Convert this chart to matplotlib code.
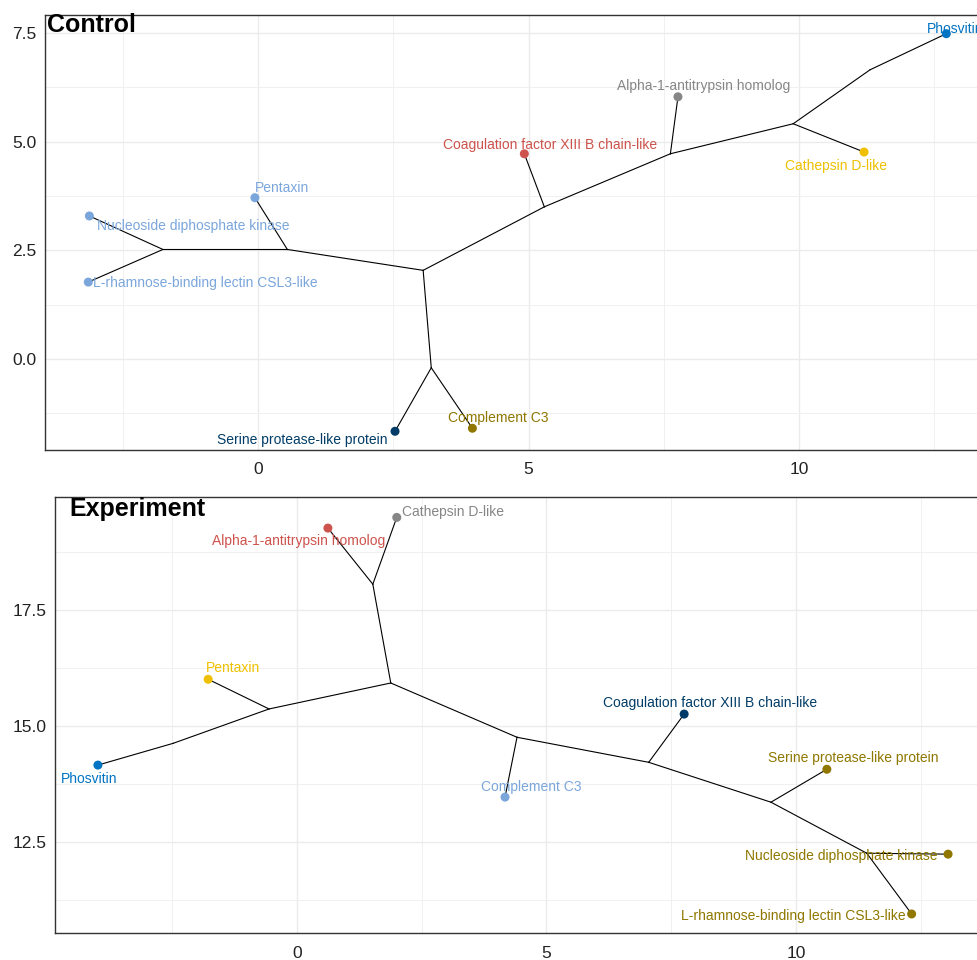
import matplotlib
matplotlib.use("Agg")
import matplotlib.pyplot as plt

plt.rcParams['font.family'] = ['Liberation Sans', 'DejaVu Sans']

# palette (ggsci jco)
BLUE = "#0073C2"
YELLOW = "#EFC000"
GRAY = "#868686"
RED = "#CD534C"
LIGHTBLUE = "#7AA6DC"
NAVY = "#003C67"
OLIVE = "#8F7700"

# ---- Control tree ----
ctrl_nodes = ["Phosvitin", "Alpha-1-antitrypsin homolog", "Coagulation factor XIII B chain-like",
              "Cathepsin D-like", "Pentaxin", "Nucleoside diphosphate kinase",
              "L-rhamnose-binding lectin CSL3-like", "Serine protease-like protein", "Complement C3",
              "n1", "n2", "n3", "n4", "n5", "n6", "n7", "n8"]
ctrl_x = [12.72, 7.76, 4.92, 11.20, -0.06, -3.12, -3.14, 2.53, 3.96,
          -1.76, 0.54, 3.05, 3.20, 5.29, 7.62, 9.89, 11.31]
ctrl_y = [7.48, 6.03, 4.72, 4.76, 3.71, 3.29, 1.77, -1.66, -1.59,
          2.52, 2.52, 2.04, -0.20, 3.50, 4.72, 5.41, 6.65]
ctrl_edges = [("n1", "Nucleoside diphosphate kinase"), ("n1", "L-rhamnose-binding lectin CSL3-like"),
              ("n1", "n2"), ("n2", "Pentaxin"), ("n2", "n3"), ("n3", "n4"),
              ("n4", "Serine protease-like protein"), ("n4", "Complement C3"), ("n3", "n5"),
              ("n5", "Coagulation factor XIII B chain-like"), ("n5", "n6"),
              ("n6", "Alpha-1-antitrypsin homolog"), ("n6", "n7"), ("n7", "Cathepsin D-like"),
              ("n7", "n8"), ("n8", "Phosvitin")]
ctrl_colors = [BLUE, GRAY, RED, YELLOW, LIGHTBLUE, LIGHTBLUE, LIGHTBLUE, NAVY, OLIVE]
ctrl_lab_x = [12.37, 8.23, 5.40, 10.68, 0.45, -1.20, -0.98, 0.81, 4.44]
ctrl_lab_y = [7.59, 6.28, 4.93, 4.44, 3.94, 3.06, 1.75, -1.86, -1.36]
ctrl_lab_ha = ["left", "center", "center", "center", "center", "center", "center", "center", "center"]

# ---- Experiment tree ----
exp_nodes = ["Cathepsin D-like", "Alpha-1-antitrypsin homolog", "Pentaxin", "Phosvitin",
             "Complement C3", "Coagulation factor XIII B chain-like", "Serine protease-like protein",
             "Nucleoside diphosphate kinase", "L-rhamnose-binding lectin CSL3-like",
             "m1", "m2", "m3", "m4", "m5", "m6", "m7", "m8"]
exp_x = [2.00, 0.62, -1.78, -3.99, 4.17, 7.76, 10.62, 13.05, 12.32,
         1.52, 1.88, -0.56, -2.48, 4.41, 7.05, 9.50, 11.42]
exp_y = [19.50, 19.27, 16.01, 14.16, 13.47, 15.26, 14.07, 12.24, 10.95,
         18.06, 15.93, 15.37, 14.63, 14.76, 14.22, 13.36, 12.26]
exp_edges = [("m1", "Cathepsin D-like"), ("m1", "Alpha-1-antitrypsin homolog"), ("m1", "m2"),
             ("m2", "m3"), ("m3", "Pentaxin"), ("m3", "m4"), ("m4", "Phosvitin"),
             ("m2", "m5"), ("m5", "Complement C3"), ("m5", "m6"),
             ("m6", "Coagulation factor XIII B chain-like"), ("m6", "m7"),
             ("m7", "Serine protease-like protein"), ("m7", "m8"),
             ("m8", "Nucleoside diphosphate kinase"), ("m8", "L-rhamnose-binding lectin CSL3-like")]
exp_colors = [GRAY, RED, YELLOW, BLUE, LIGHTBLUE, NAVY, OLIVE, OLIVE, OLIVE]
exp_lab_x = [3.13, 0.04, -1.28, -4.17, 4.69, 8.28, 11.14, 10.90, 9.94]
exp_lab_y = [19.61, 18.99, 16.25, 13.86, 13.69, 15.50, 14.31, 12.20, 10.90]
exp_lab_ha = ["center"] * 9


def draw_tree(ax, nodes, xs, ys, edges, colors, lab_x, lab_y, lab_ha, title, title_xy,
              xlim, ylim, yticks):
    pos = {n: (x, y) for n, x, y in zip(nodes, xs, ys)}
    for a, b in edges:
        ax.plot([pos[a][0], pos[b][0]], [pos[a][1], pos[b][1]], color="black", lw=0.8, zorder=2)
    n_leaf = len(colors)
    ax.scatter(xs[:n_leaf], ys[:n_leaf], s=42, c=colors, zorder=3, linewidths=0)
    for i in range(n_leaf):
        ax.text(lab_x[i], lab_y[i], nodes[i], color=colors[i], fontsize=10,
                ha=lab_ha[i], va="center", zorder=4)
    ax.text(title_xy[0], title_xy[1], title, fontsize=18, fontweight="bold",
            ha="center", va="center", zorder=5)

    # ticks first, limits after (set_ticks can widen the view)
    ax.set_xticks([0, 5, 10])
    ax.set_xticks([-2.5, 2.5, 7.5, 12.5], minor=True)
    ax.set_yticks(yticks)
    ax.set_yticks([t + 1.25 for t in yticks] + [yticks[0] - 1.25], minor=True)
    ax.set_yticklabels([f"{t:.1f}" for t in yticks])
    ax.set_xlim(*xlim)
    ax.set_ylim(*ylim)
    ax.grid(True, which="major", color="#EBEBEB", lw=1.0, zorder=0)
    ax.grid(True, which="minor", color="#F0F0F0", lw=0.7, zorder=0)
    ax.set_axisbelow(True)
    ax.tick_params(which="both", length=0, labelsize=12.5, labelcolor="#222222")
    ax.tick_params(axis="x", pad=9)
    ax.tick_params(axis="y", pad=6)
    for s in ax.spines.values():
        s.set_color("#333333")
        s.set_linewidth(1.0)


fig = plt.figure(figsize=(9.77, 9.6), dpi=100)

ax1 = fig.add_axes([45 / 977, 1 - 450 / 960, (982 - 45) / 977, 435 / 960])
draw_tree(ax1, ctrl_nodes, ctrl_x, ctrl_y, ctrl_edges, ctrl_colors, ctrl_lab_x, ctrl_lab_y,
          ctrl_lab_ha, "Control", (-3.09, 7.68), (-3.94, 13.38), (-2.09, 7.91), [0.0, 2.5, 5.0, 7.5])

ax2 = fig.add_axes([55 / 977, 1 - 933 / 960, (982 - 55) / 977, 436 / 960])
draw_tree(ax2, exp_nodes, exp_x, exp_y, exp_edges, exp_colors, exp_lab_x, exp_lab_y,
          exp_lab_ha, "Experiment", (-3.19, 19.68), (-4.85, 13.73), (10.54, 19.94), [12.5, 15.0, 17.5])

fig.savefig("out.png", dpi=100)
